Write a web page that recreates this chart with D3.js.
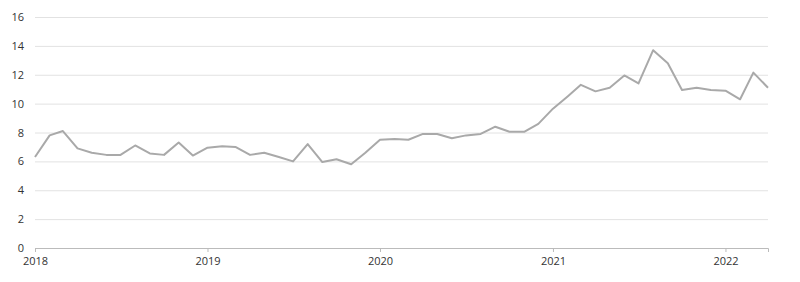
<!DOCTYPE html>
<html>
<head>
<meta charset="utf-8">
<script src="https://cdn.jsdelivr.net/npm/d3@7"></script>
<style>
  body { margin: 0; background: #fff; }
  #chart { width: 800px; height: 282px; }
  .tick text { font-family: "Open Sans", sans-serif; font-size: 11px; fill: #333; }
</style>
</head>
<body>
<div id="chart"></div>
<script>
// monthly series, Jan 2018 - Apr 2022
let startMonth = "2018-01";
let values = [6.3, 7.8, 8.1, 6.9, 6.6, 6.45, 6.45, 7.1, 6.55, 6.45, 7.3, 6.4,
    6.95, 7.05, 7.0, 6.45, 6.6, 6.3, 6.0, 7.2, 5.95, 6.15, 5.8, 6.6,
    7.5, 7.55, 7.5, 7.9, 7.9, 7.6, 7.8, 7.9, 8.4, 8.05, 8.05, 8.6,
    9.65, 10.5, 11.3, 10.85, 11.1, 11.95, 11.4, 13.7, 12.8, 10.95, 11.1, 10.95,
    10.9, 10.3, 12.15, 11.1];
let yTicks = [0, 2, 4, 6, 8, 10, 12, 14, 16];
let xTickYears = ["2018", "2019", "2020", "2021", "2022"];

let parseMonth = d3.timeParse("%Y-%m");
let t0 = parseMonth(startMonth);
let data = values.map((v, i) => ({date: d3.timeMonth.offset(t0, i), value: v}));

let margin = {top: 17, right: 32, bottom: 34, left: 35};
let width = 800 - margin.left - margin.right;
let height = 282 - margin.top - margin.bottom;

let svg = d3.select("#chart").append("svg")
    .attr("width", 800)
    .attr("height", 282)
    .append("g")
    .attr("transform", "translate(" + margin.left + "," + margin.top + ")");

let x = d3.scaleTime()
    .domain([t0, data[data.length - 1].date])
    .range([0, width]);

let y = d3.scaleLinear()
    .domain([0, 16])
    .range([height, 0]);

// gridlines + y labels
let yAxis = svg.append("g")
    .call(d3.axisLeft(y).tickValues(yTicks).tickSize(-width).tickPadding(11));
yAxis.select(".domain").remove();
yAxis.selectAll(".tick line")
    .attr("stroke", "#e2e2e2")
    .attr("stroke-width", 1);

// x axis
let xAxis = svg.append("g")
    .attr("transform", "translate(0," + height + ")")
    .call(d3.axisBottom(x)
        .tickValues(xTickYears.map(yr => d3.timeParse("%Y")(yr)))
        .tickFormat(d3.timeFormat("%Y"))
        .tickSize(4)
        .tickPadding(5));
xAxis.select(".domain").attr("stroke", "#bbb");
xAxis.selectAll(".tick line").attr("stroke", "#bbb");

// line
let line = d3.line()
    .x(d => x(d.date))
    .y(d => y(d.value));

svg.append("path")
    .datum(data)
    .attr("fill", "none")
    .attr("stroke", "#a9a9a9")
    .attr("stroke-width", 2)
    .attr("stroke-linejoin", "round")
    .attr("d", line);
</script>
</body>
</html>
